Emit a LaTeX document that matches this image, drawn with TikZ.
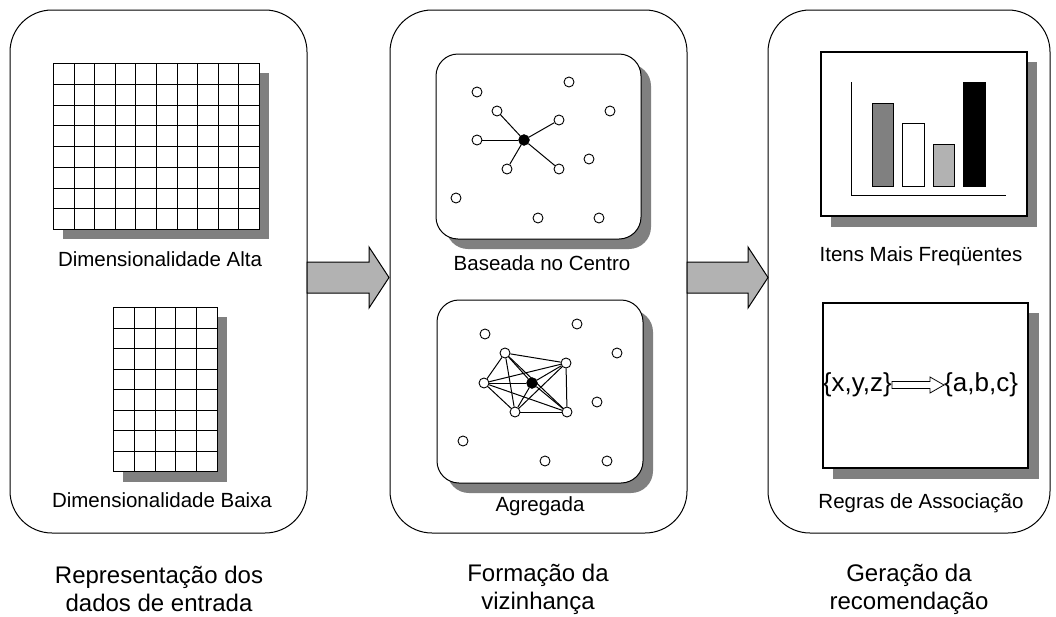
\documentclass[tikz,border=0pt]{standalone}
\usepackage{fontspec}
\setmainfont{Liberation Sans}
\usetikzlibrary{calc}
\definecolor{shadowgray}{HTML}{808080}
\definecolor{arrowgray}{HTML}{B2B2B2}
\definecolor{barlight}{HTML}{B2B2B2}

\begin{document}
\begin{tikzpicture}[x=1pt,y=-1pt,
  panel/.style={draw=black, line width=1pt, rounded corners=42pt},
  card/.style={draw=black, fill=white, line width=1pt, rounded corners=22pt},
  cardshade/.style={fill=shadowgray, draw=none, rounded corners=22pt},
  shade/.style={fill=shadowgray, draw=none},
  frame/.style={draw=black, fill=white, line width=1.2pt},
  gridline/.style={line width=1.3pt},
  pt/.style={circle, draw=black, fill=white, line width=0.9pt, minimum size=10pt, inner sep=0pt},
  hub/.style={circle, fill=black, draw=black, minimum size=11pt, inner sep=0pt},
  link/.style={line width=1pt},
  bar/.style={draw=black, line width=1pt},
  label/.style={font=\fontsize{20.5}{24}\selectfont, inner sep=0pt},
  caption/.style={font=\fontsize{24}{28}\selectfont, align=center, inner sep=0pt},
  rule/.style={font=\fontsize{26}{30}\selectfont, inner sep=0pt},
  flow/.style={draw=black, fill=arrowgray, line width=1pt, line join=miter},
  hollow/.style={draw=black, fill=white, line width=0.8pt, line join=miter},
]
\useasboundingbox (0,0) rectangle (1056,616);

% three stage panels
\draw[panel] (10,10) rectangle (307,533);
\draw[panel] (390,10) rectangle (687,533);
\draw[panel] (768,10) rectangle (1050,533);

% block arrows between the stages
\draw[flow] (307,262) -- (369,262) -- (369,247) -- (389,277.5) -- (369,308) -- (369,293) -- (307,293) -- cycle;
\draw[flow] (687,262) -- (748,262) -- (748,247) -- (768,277.5) -- (748,308) -- (748,293) -- (687,293) -- cycle;

% ---- input representation: high-dimensional table (lines snapped to pixel centres)
\fill[shade] (63,73) rectangle (269,239);
\fill[white] (53,63) rectangle (259,229);
\foreach \i in {0,...,10}
  \draw[gridline] ({round(53+20.6*\i)+0.5},63) -- ({round(53+20.6*\i)+0.5},229.5);
\foreach \j in {0,...,8}
  \draw[gridline] (53,{round(63+20.75*\j)+0.5}) -- (259.5,{round(63+20.75*\j)+0.5});
\node[label] (alta) at (160,259) {Dimensionalidade Alta};

% low-dimensional table
\fill[shade] (123,317) rectangle (227,482);
\fill[white] (113,307) rectangle (217,471);
\foreach \i in {0,...,5}
  \draw[gridline] ({round(113+20.8*\i)+0.5},307) -- ({round(113+20.8*\i)+0.5},471.5);
\foreach \j in {0,...,8}
  \draw[gridline] (113,{round(307+20.5*\j)+0.5}) -- (217.5,{round(307+20.5*\j)+0.5});
\node[label] (baixa) at (162,500) {Dimensionalidade Baixa};

\node[caption] (cap1) at (159,589) {Representação dos\\dados de entrada};

% ---- neighbourhood: centre based
\fill[cardshade] (446,64) rectangle (651,249);
\draw[card] (436,54) rectangle (641,239);
\node[pt] (u1) at (477,92) {};
\node[pt] (u2) at (569,82) {};
\node[pt] (u3) at (610,111) {};
\node[pt] (u4) at (497,111) {};
\node[pt] (u5) at (559,120) {};
\node[pt] (u6) at (477,140) {};
\node[hub] (uc) at (524,140) {};
\node[pt] (u7) at (589,159) {};
\node[pt] (u8) at (507,169) {};
\node[pt] (u9) at (559,169) {};
\node[pt] (u10) at (456,198) {};
\node[pt] (u11) at (538,218) {};
\node[pt] (u12) at (599,218) {};
\foreach \n in {u4,u5,u6,u8,u9}
  \draw[link] (uc) -- (\n);
\node[label] (centro) at (542,263) {Baseada no Centro};

% ---- neighbourhood: aggregated
\fill[cardshade] (447,310) rectangle (653,493);
\draw[card] (437,300) rectangle (643,483);
\node[pt] (l1) at (485,334) {};
\node[pt] (l2) at (577,324) {};
\node[pt] (l3) at (617,353) {};
\node[pt] (la) at (505,353) {};
\node[pt] (lb) at (566,363) {};
\node[pt] (lc) at (484,383) {};
\node[hub] (lx) at (532,383) {};
\node[pt] (l4) at (597,402) {};
\node[pt] (ld) at (515,412) {};
\node[pt] (le) at (567,412) {};
\node[pt] (l5) at (463,441) {};
\node[pt] (l6) at (545,461) {};
\node[pt] (l7) at (607,461) {};
\foreach \p/\q in {la/lb,la/lc,la/ld,la/le,la/lx,lb/lc,lb/ld,lb/le,lb/lx,lc/ld,lc/le,lc/lx,ld/le,ld/lx,le/lx}
  \draw[link] (\p) -- (\q);
\node[label] (agreg) at (540,506) {Agregada};

\node[caption] (cap2) at (538,589) {Formação da\\vizinhança};

% ---- recommendation: frequent items chart
\fill[shade] (831,62) rectangle (1037,227);
\draw[frame] (821,52) rectangle (1027,216);
\draw[link] (851,82) -- (851,195) -- (1006,195);
\draw[bar, fill=shadowgray] (872,103) rectangle (893,186);
\draw[bar, fill=white] (902,123) rectangle (924,186);
\draw[bar, fill=barlight] (933,144) rectangle (954,186);
\draw[bar, fill=black] (963,82) rectangle (985,186);
\node[label] (itens) at (921,256) {Itens Mais Freqüentes};

% association rule card
\fill[shade] (833,313) rectangle (1039,479);
\draw[frame] (823,303) rectangle (1028,468);
\node[rule, anchor=east] (lhs) at (892,385) {\{x,y,z\}};
\node[rule, anchor=west] (rhs) at (944,385) {\{a,b,c\}};
\draw[hollow] (892,381.5) -- (930,381.5) -- (930,377) -- (944,385) -- (930,393) -- (930,388.5) -- (892,388.5) -- cycle;
\node[label] (regras) at (921,503) {Regras de Associação};

\node[caption] (cap3) at (909,589) {Geração da\\recomendação};
\end{tikzpicture}
\end{document}
